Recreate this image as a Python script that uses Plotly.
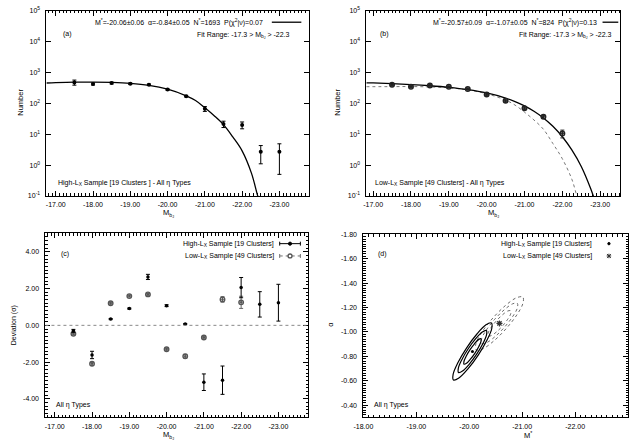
import plotly.graph_objects as go

# ---------------- data ----------------
# Panel (a): High-Lx sample luminosity function
pts_a_M = [-17.5, -18.0, -18.5, -19.0, -19.5, -20.0, -20.5, -21.0, -21.5, -22.0, -22.5, -23.0]
pts_a_N = [480, 425, 457, 435, 405, 280, 172, 67, 21.5, 20, 2.7, 2.7]
pts_a_err = [90, 30, 30, 25, 20, 15, 10, 12, 5, 5, 1.6, 2.2]
fit_a_M = [-16.75, -17.0, -17.5, -18.0, -18.5, -19.0, -19.5, -20.0, -20.5, -20.75,
           -21.0, -21.25, -21.5, -21.75, -22.0, -22.25, -22.4, -22.5]
fit_a_N = [458, 470, 487, 492, 480, 448, 385, 288, 176, 124,
           72, 40, 20.5, 8.2, 2.9, 0.55, 0.12, 0.045]

# Panel (b): Low-Lx sample luminosity function
pts_b_M = [-17.5, -18.0, -18.5, -19.0, -19.5, -20.0, -20.5, -21.0, -21.5, -22.0]
pts_b_N = [404, 350, 383, 348, 293, 194, 121, 70, 37, 10.6]
pts_b_err = [20, 18, 20, 18, 15, 12, 8, 6, 4, 3]
fit_b_M = [-16.82, -17.0, -17.5, -18.0, -18.5, -19.0, -19.5, -20.0, -20.5, -20.75,
           -21.0, -21.25, -21.5, -21.75, -22.0, -22.25, -22.5, -22.75, -22.9]
fit_b_N = [465, 460, 436, 408, 374, 332, 280, 218, 149, 115,
           83.5, 55.9, 33.9, 18.1, 8.3, 3.1, 0.9, 0.17, 0.05]
hifit_b_M = [-16.82, -17.5, -18.0, -18.5, -19.0, -19.5, -20.0, -20.5, -20.75,
             -21.0, -21.25, -21.5, -21.75, -22.0, -22.25, -22.4, -22.5]
hifit_b_N = [348, 350, 352, 342, 320, 275, 205, 128, 88,
             52, 29, 14.5, 5.0, 1.6, 0.35, 0.085, 0.04]

# Panel (c): deviations
dev_hi_M = [-17.5, -18.0, -18.5, -19.0, -19.5, -20.0, -20.5, -21.0, -21.5, -22.0, -22.5, -23.0]
dev_hi = [-0.30, -1.61, 0.34, 0.91, 2.63, 1.07, 0.07, -3.09, -2.98, 2.05, 1.14, 1.23]
dev_hi_err = [0.08, 0.20, 0.03, 0.03, 0.14, 0.05, 0.03, 0.45, 0.77, 0.55, 0.69, 1.00]
dev_lo_M = [-17.5, -18.0, -18.5, -19.0, -19.5, -20.0, -20.5, -21.0, -21.5, -22.0]
dev_lo = [-0.46, -2.09, 1.20, 1.59, 1.68, -1.30, -1.68, -0.66, 1.41, 1.25]
dev_lo_err = [0.05, 0.08, 0.05, 0.05, 0.05, 0.05, 0.10, 0.04, 0.15, 0.33]

# Panel (d): best fits and confidence contours (M*, alpha)
best_hi = (-20.06, -0.84)
best_lo = (-20.57, -1.07)
hi1_M = [-20.169, -19.975, -19.804, -19.702, -19.695, -19.787, -19.951, -20.145, -20.316, -20.418, -20.425, -20.333, -20.169]
hi1_a = [-0.810, -0.697, -0.622, -0.606, -0.652, -0.749, -0.870, -0.983, -1.058, -1.074, -1.028, -0.931, -0.810]
hi2_M = [-20.140, -19.998, -19.873, -19.797, -19.793, -19.860, -19.980, -20.122, -20.247, -20.323, -20.327, -20.261, -20.140]
hi2_a = [-0.818, -0.735, -0.680, -0.668, -0.702, -0.773, -0.862, -0.945, -1.000, -1.012, -0.978, -0.907, -0.818]
hi3_M = [-20.108, -20.022, -19.947, -19.901, -19.899, -19.939, -20.012, -20.098, -20.174, -20.219, -20.222, -20.181, -20.108]
hi3_a = [-0.827, -0.777, -0.743, -0.736, -0.757, -0.799, -0.853, -0.903, -0.937, -0.944, -0.923, -0.881, -0.827]
lo1_M = [-20.692, -20.455, -20.248, -20.128, -20.126, -20.243, -20.448, -20.685, -20.892, -21.012, -21.014, -20.897, -20.692]
lo1_a = [-1.025, -0.923, -0.860, -0.854, -0.905, -1.001, -1.115, -1.217, -1.280, -1.286, -1.235, -1.139, -1.025]
lo2_M = [-20.661, -20.480, -20.323, -20.233, -20.233, -20.323, -20.479, -20.660, -20.817, -20.907, -20.908, -20.817, -20.661]
lo2_a = [-1.037, -0.959, -0.911, -0.905, -0.944, -1.016, -1.103, -1.181, -1.230, -1.235, -1.196, -1.124, -1.037]
lo3_M = [-20.628, -20.514, -20.415, -20.358, -20.357, -20.414, -20.513, -20.626, -20.725, -20.782, -20.783, -20.726, -20.628]
lo3_a = [-1.049, -1.000, -0.970, -0.966, -0.991, -1.037, -1.091, -1.140, -1.171, -1.174, -1.149, -1.104, -1.049]

# tick labels
mag_ticks = [-17, -18, -19, -20, -21, -22, -23]
mag_ticks_d = [-18, -19, -20, -21, -22, -23]
log_ticks = [0.1, 1, 10, 100, 1000, 1e4, 1e5]
log_text = ["10<sup>-1</sup>", "10<sup>0</sup>", "10<sup>1</sup>", "10<sup>2</sup>",
            "10<sup>3</sup>", "10<sup>4</sup>", "10<sup>5</sup>"]
dev_ticks = [-4, -2, 0, 2, 4]
alpha_ticks = [-1.8, -1.6, -1.4, -1.2, -1.0, -0.8, -0.6, -0.4]

# ---------------- layout helpers ----------------
W, H = 636, 443
FONT = "Liberation Sans"
GREY = "#6e6e6e"


def dx(l, r):
    return [l / W, r / W]


def dy(t, b):
    return [1 - b / H, 1 - t / H]


def axis(domain, anchor, rng, tickvals, ticktext, minor_dtick=None, **kw):
    d = dict(domain=domain, anchor=anchor, range=rng, tickvals=tickvals, ticktext=ticktext,
             showline=True, linecolor="black", linewidth=1, mirror="allticks",
             ticks="inside", ticklen=5, tickwidth=1, tickcolor="black",
             showgrid=False, zeroline=False,
             tickfont=dict(family=FONT, size=7, color="black"))
    if minor_dtick is not None:
        d["minor"] = dict(ticks="inside", ticklen=2.5, tickwidth=1, tickcolor="black",
                          dtick=minor_dtick, tick0=0, showgrid=False)
    d.update(kw)
    return d


def fmt(v):
    return f"{v:.2f}"


fig = go.Figure()

# ---- panel (a)
fig.add_trace(go.Scatter(x=fit_a_M, y=fit_a_N, mode="lines", line=dict(color="black", width=1.3, shape="spline"),
                         xaxis="x", yaxis="y", showlegend=False))
fig.add_trace(go.Scatter(x=pts_a_M, y=pts_a_N, mode="markers",
                         marker=dict(color="black", size=4, symbol="circle"),
                         error_y=dict(type="data", array=pts_a_err, color="black", thickness=1, width=2),
                         xaxis="x", yaxis="y", showlegend=False))

# ---- panel (b)
fig.add_trace(go.Scatter(x=hifit_b_M, y=hifit_b_N, mode="lines",
                         line=dict(color="#777", width=1, dash="dot", shape="spline"),
                         xaxis="x2", yaxis="y2", showlegend=False))
fig.add_trace(go.Scatter(x=fit_b_M, y=fit_b_N, mode="lines", line=dict(color="black", width=1.3, shape="spline"),
                         xaxis="x2", yaxis="y2", showlegend=False))
fig.add_trace(go.Scatter(x=pts_b_M, y=pts_b_N, mode="markers",
                         marker=dict(color="#222", size=4.5, symbol="circle-open-dot", line=dict(width=1.5)),
                         error_y=dict(type="data", array=pts_b_err, color="#222", thickness=1, width=2),
                         xaxis="x2", yaxis="y2", showlegend=False))

# ---- panel (c)
fig.add_trace(go.Scatter(x=dev_lo_M, y=dev_lo, mode="markers",
                         marker=dict(color="#555", size=4.5, symbol="circle-open-dot", line=dict(width=1.4)),
                         error_y=dict(type="data", array=dev_lo_err, color="#666", thickness=1, width=2),
                         xaxis="x3", yaxis="y3", showlegend=False))
fig.add_trace(go.Scatter(x=dev_hi_M, y=dev_hi, mode="markers",
                         marker=dict(color="black", size=3.5, symbol="circle"),
                         error_y=dict(type="data", array=dev_hi_err, color="black", thickness=1, width=2),
                         xaxis="x3", yaxis="y3", showlegend=False))

# ---- panel (d)
for mm, aa in [(lo1_M, lo1_a), (lo2_M, lo2_a), (lo3_M, lo3_a)]:
    fig.add_trace(go.Scatter(x=mm, y=aa, mode="lines",
                             line=dict(color="#6a6a6a", width=1, dash="dot", shape="spline"),
                             xaxis="x4", yaxis="y4", showlegend=False))
for mm, aa in [(hi1_M, hi1_a), (hi2_M, hi2_a), (hi3_M, hi3_a)]:
    fig.add_trace(go.Scatter(x=mm, y=aa, mode="lines",
                             line=dict(color="black", width=1.2, shape="spline"),
                             xaxis="x4", yaxis="y4", showlegend=False))
fig.add_trace(go.Scatter(x=[best_hi[0]], y=[best_hi[1]], mode="markers",
                         marker=dict(color="black", size=3, symbol="circle"),
                         xaxis="x4", yaxis="y4", showlegend=False))
fig.add_trace(go.Scatter(x=[best_lo[0]], y=[best_lo[1]], mode="markers",
                         marker=dict(color="#333", size=5, symbol="asterisk-open", line=dict(width=1.2, color="#333")),
                         xaxis="x4", yaxis="y4", showlegend=False))

# ---------------- axes ----------------
mt = [fmt(v) for v in mag_ticks]
fig.update_layout(
    xaxis=axis(dx(37, 304), "y", [-16.75, -23.8], mag_ticks, mt, 0.1, ticklabelstandoff=2),
    yaxis=axis(dy(7, 195), "x", [-1, 5], log_ticks, log_text, type="log", ticklabelstandoff=4),
    xaxis2=axis(dx(362, 620), "y2", [-16.82, -23.53], mag_ticks, mt, 0.1, ticklabelstandoff=2),
    yaxis2=axis(dy(7, 195), "x2", [-1, 5], log_ticks, log_text, type="log", ticklabelstandoff=4),
    xaxis3=axis(dx(36, 303), "y3", [-16.75, -23.8], mag_ticks, mt, 0.1, ticklabelstandoff=2),
    yaxis3=axis(dy(233, 420), "x3", [-5, 5], dev_ticks, [fmt(v) for v in dev_ticks], 0.2, ticklabelstandoff=4),
    xaxis4=axis(dx(359, 628), "y4", [-18, -23], mag_ticks_d, [fmt(v) for v in mag_ticks_d], 0.1, ticklabelstandoff=2),
    yaxis4=axis(dy(234, 420), "x4", [-0.3, -1.8], alpha_ticks, [fmt(v) for v in alpha_ticks], 0.02, ticklabelstandoff=4),
    width=W, height=H, margin=dict(l=0, r=0, t=0, b=0),
    paper_bgcolor="white", plot_bgcolor="white", showlegend=False,
)

# ---------------- text ----------------
anns = []


def txt(px, py, s, xanchor="left", size=7, angle=0, color="black"):
    anns.append(dict(x=px / W, y=1 - py / H, xref="paper", yref="paper", text=s, showarrow=False,
                     xanchor=xanchor, yanchor="middle", textangle=angle,
                     font=dict(family=FONT, size=size, color=color)))


SP = "\u00a0\u00a0"
MBJ = "M<sub>b<sub>J</sub></sub>"
LX = "L<sub>X</sub>"

# (a)
txt(259, 18.5, "M<sup>*</sup>=-20.06±0.06" + SP + "α=-0.84±0.05" + SP + "N<sup>*</sup>=1693" + SP
    + "P(χ<sup>2</sup>|ν)=0.07", "right")
txt(287, 31.5, "Fit Range: -17.3 > " + MBJ + " > -22.3", "right")
txt(52, 30, "(a)")
txt(47, 181.5, "High-" + LX + " Sample [19 Clusters ] - All η Types")
txt(10.5, 100, "Number", "center", 7.5, -90)
txt(161, 213, MBJ, "center", 7.5)
# (b)
txt(598, 18.5, "M<sup>*</sup>=-20.57±0.09" + SP + "α=-1.07±0.05" + SP + "N<sup>*</sup>=824" + SP
    + "P(χ<sup>2</sup>|ν)=0.13", "right")
txt(614, 31.5, "Fit Range: -17.3 > " + MBJ + " > -22.3", "right")
txt(374, 30, "(b)")
txt(369, 181.5, "Low-" + LX + " Sample [49 Clusters] - All η Types")
txt(332.5, 100, "Number", "center", 7.5, -90)
txt(491, 213, MBJ, "center", 7.5)
# (c)
txt(50, 254, "(c)")
txt(270, 243.5, "High-" + LX + " Sample [19 Clusters]", "right")
txt(270, 256, "Low-" + LX + " Sample [49 Clusters]", "right")
txt(45, 407.5, "All η Types")
txt(4, 326.5, "Deviation (σ)", "center", 7, -90)
txt(161, 438.5, MBJ, "center", 7.5)
# (d)
txt(372, 254, "(d)")
txt(593, 243.5, "High-" + LX + " Sample [19 Clusters]", "right")
txt(593, 256, "Low-" + LX + " Sample [49 Clusters]", "right")
txt(368, 407.5, "All η Types")
txt(326, 325, "α", "center", 7.5, -90)
txt(526, 437.5, "M<sup>*</sup>", "center", 7.5)
fig.update_layout(annotations=anns)

# ---------------- legend samples & reference line (layout shapes) ----------------
shapes = []


def seg(x0, y0, x1, y1, color="black", dash="solid", width=1):
    shapes.append(dict(type="line", xref="paper", yref="paper", x0=x0 / W, x1=x1 / W,
                       y0=1 - y0 / H, y1=1 - y1 / H, line=dict(color=color, width=width, dash=dash)))


def dot(cx, cy, r, color="black", fill="black", width=1):
    shapes.append(dict(type="circle", xref="paper", yref="paper", x0=(cx - r) / W, x1=(cx + r) / W,
                       y0=1 - (cy + r) / H, y1=1 - (cy - r) / H, line=dict(color=color, width=width),
                       fillcolor=fill))


# fit line samples in (a) and (b)
seg(266, 18.5, 296, 18.5, width=1.3)
seg(602, 18.5, 618, 18.5, width=1.3)
# zero line in (c)
shapes.append(dict(type="line", xref="x3 domain", yref="y3", x0=0, x1=1, y0=0, y1=0,
                   line=dict(color="#888", width=1, dash="dot")))
# (c) legend samples
seg(274, 243.5, 295, 243.5)
seg(274, 241.5, 274, 245.5)
seg(295, 241.5, 295, 245.5)
dot(284.5, 243.5, 1.6)
seg(274, 256, 295, 256, color=GREY, dash="dot")
seg(274, 254, 274, 258, color=GREY)
seg(295, 254, 295, 258, color=GREY)
dot(284.5, 256, 2.0, color="#555", fill="white", width=1.3)
# (d) legend samples
dot(608.5, 243.5, 1.2)
seg(606.5, 254, 610.5, 258, color="#333")
seg(606.5, 258, 610.5, 254, color="#333")
seg(608.5, 253.7, 608.5, 258.3, color="#333")
seg(606.2, 256, 610.8, 256, color="#333")
fig.update_layout(shapes=shapes)

fig.write_html("out.html")
